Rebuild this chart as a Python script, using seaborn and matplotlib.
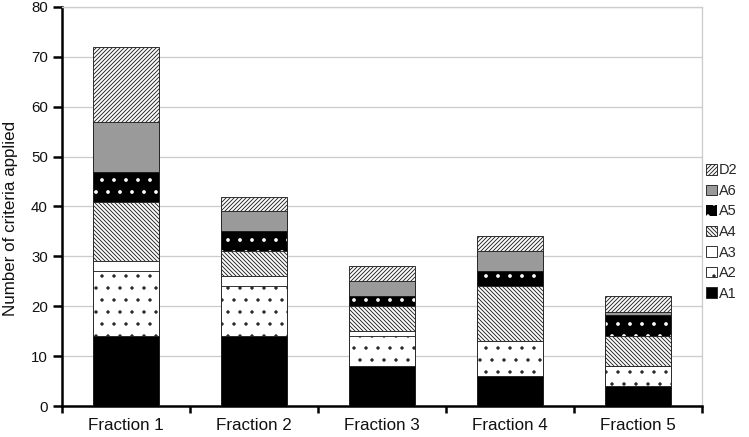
import matplotlib
matplotlib.use("Agg")
import matplotlib.pyplot as plt
import seaborn as sns
import numpy as np
from matplotlib.patches import Patch
from matplotlib.ticker import FixedLocator, NullFormatter

# ---- data -------------------------------------------------------------
categories = ["Fraction 1", "Fraction 2", "Fraction 3", "Fraction 4", "Fraction 5"]
series_names = ["A1", "A2", "A3", "A4", "A5", "A6", "D2"]
a1 = [14, 14, 8, 6, 4]
a2 = [13, 10, 6, 7, 4]
a3 = [2, 2, 1, 0, 0]
a4 = [12, 5, 5, 11, 6]
a5 = [6, 4, 2, 3, 4.2]
a6 = [10, 4, 3, 4, 0.6]
d2 = [15, 3, 3, 3, 3.2]
y_ticks = [0, 10, 20, 30, 40, 50, 60, 70, 80]
y_label = "Number of criteria applied"

values = {"A1": a1, "A2": a2, "A3": a3, "A4": a4, "A5": a5, "A6": a6, "D2": d2}

# ---- styles (face, hatch colour, hatch) ---------------------------------
styles = {
    "A1": ("black", "black", ""),
    "A2": ("white", "black", "."),
    "A3": ("white", "black", ""),
    "A4": ("white", "black", "\\" * 6),
    "A5": ("black", "white", "."),
    "A6": ("#9a9a9a", "black", ""),
    "D2": ("white", "black", "/" * 6),
}

sns.set_style("white")
plt.rcParams["font.family"] = ["Liberation Sans", "DejaVu Sans"]
plt.rcParams["hatch.linewidth"] = 0.9

W, H = 749, 437
fig = plt.figure(figsize=(W / 72, H / 72), dpi=72)
ax = fig.add_axes([62 / W, 31 / H, 640 / W, 399 / H])

edge_col = "#222222"
edge_lw = 0.9
bar_w = 0.52

cum = np.cumsum(np.array([values[n] for n in series_names], dtype=float), axis=0)

for idx in range(len(series_names) - 1, -1, -1):
    name = series_names[idx]
    face, hcol, hatch = styles[name]
    sns.barplot(x=categories, y=cum[idx], ax=ax, color="white", width=bar_w,
                saturation=1, zorder=3)
    for p in ax.containers[-1]:
        p.set_facecolor(face)
        p.set_hatch(hatch)
        if hcol == "white":
            p.set_edgecolor("white")
            p.set_linewidth(0)
            if hasattr(p, "set_hatch_linewidth"):
                p.set_hatch_linewidth(1.3)
        else:
            p.set_edgecolor(edge_col)
            p.set_linewidth(edge_lw)
    if hcol == "white":
        sns.barplot(x=categories, y=cum[idx], ax=ax, color="white", width=bar_w,
                    saturation=1, zorder=3)
        for p in ax.containers[-1]:
            p.set_facecolor("none")
            p.set_edgecolor(edge_col)
            p.set_linewidth(edge_lw)

# ---- axes styling -------------------------------------------------------
ax.set_xlim(-0.5, len(categories) - 0.5)
ax.set_ylim(0, 80)
ax.set_yticks(y_ticks)
ax.yaxis.grid(True, color="#cccccc", linewidth=1.3)
ax.xaxis.grid(False)
ax.set_axisbelow(True)

for s in ["left", "bottom"]:
    ax.spines[s].set_color("black")
    ax.spines[s].set_linewidth(2.5)
for s in ["top", "right"]:
    ax.spines[s].set_color("#cccccc")
    ax.spines[s].set_linewidth(1.3)

ax.tick_params(axis="y", which="major", direction="out", length=9, width=2.5,
               color="black", labelsize=15, pad=5, left=True, labelcolor="#111111")
ax.tick_params(axis="x", which="major", length=0, labelsize=17, pad=12,
               labelcolor="#111111")
ax.xaxis.set_minor_locator(FixedLocator(np.arange(-0.5, len(categories), 1.0)))
ax.xaxis.set_minor_formatter(NullFormatter())
ax.tick_params(axis="x", which="minor", direction="out", length=7, width=2.5,
               color="black", bottom=True)

ax.set_xlabel("")
ax.set_ylabel(y_label, fontsize=17, color="#111111")
ax.yaxis.set_label_coords(-0.069, 0.47)

# ---- legend -------------------------------------------------------------
handles = []
for name in reversed(series_names):
    face, hcol, hatch = styles[name]
    if hcol == "white":
        h = Patch(facecolor=face, edgecolor="white", hatch=hatch, linewidth=0)
    else:
        h = Patch(facecolor=face, edgecolor=edge_col, hatch=hatch, linewidth=edge_lw)
    handles.append(h)
fig.legend(handles, list(reversed(series_names)), loc="center left",
           bbox_to_anchor=(706 / W, 1 - 232 / H), frameon=False, fontsize=14.5,
           handlelength=0.75, handleheight=0.75, handletextpad=0.15,
           labelspacing=0.45, borderaxespad=0, borderpad=0)

fig.savefig("out.png", dpi=72)
